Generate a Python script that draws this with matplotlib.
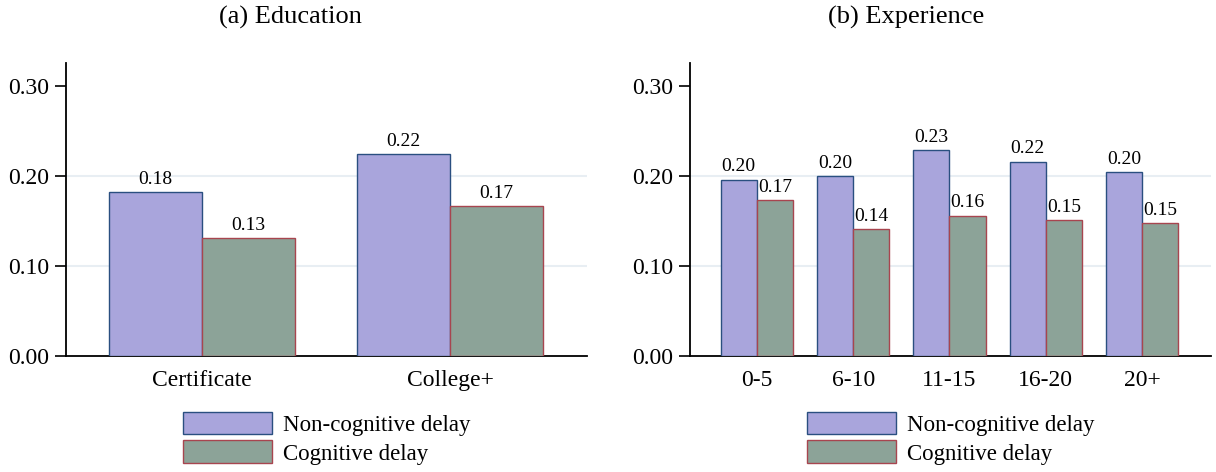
import matplotlib
matplotlib.use("Agg")
import matplotlib.pyplot as plt
import numpy as np
from matplotlib.patches import Patch

plt.rcParams['font.family'] = ['Liberation Serif', 'DejaVu Serif']

edu_categories = ["Certificate", "College+"]
edu_noncog = [0.182, 0.224]
edu_cog = [0.131, 0.167]

exp_categories = ["0-5", "6-10", "11-15", "16-20", "20+"]
exp_noncog = [0.196, 0.200, 0.229, 0.216, 0.204]
exp_cog = [0.173, 0.141, 0.156, 0.151, 0.148]

yticks = [0.00, 0.10, 0.20, 0.30]
series_labels = ["Non-cognitive delay", "Cognitive delay"]
titles = ["(a) Education", "(b) Experience"]

fill_nc, edge_nc = "#a9a5dc", "#2a4f80"
fill_c, edge_c = "#8ca398", "#a8454f"

W, H = 1216, 472
fig = plt.figure(figsize=(W / 100, H / 100), dpi=100)

def px_axes(x0, x1, y0, y1):
    return fig.add_axes([x0 / W, 1 - y1 / H, (x1 - x0) / W, (y1 - y0) / H])

ax1 = px_axes(66, 587, 63, 356)
ax2 = px_axes(690, 1211, 63, 356)

def draw(ax, cats, nc, c, xlim):
    x = np.arange(len(cats))
    w = 0.376
    b1 = ax.bar(x - w / 2, nc, w, color=fill_nc, edgecolor=edge_nc, linewidth=1.0, zorder=3)
    b2 = ax.bar(x + w / 2, c, w, color=fill_c, edgecolor=edge_c, linewidth=1.0, zorder=3)
    for bars, vals in ((b1, nc), (b2, c)):
        for r, v in zip(bars, vals):
            ax.annotate(f"{v:.2f}", (r.get_x() + r.get_width() / 2, v),
                        xytext=(0, 3), textcoords="offset points",
                        ha="center", va="bottom", fontsize=14)
    ax.set_xlim(*xlim)
    ax.set_ylim(0, 0.3256)
    ax.set_yticks(yticks)
    ax.set_yticklabels([f"{t:.2f}" for t in yticks])
    ax.set_xticks(x)
    ax.set_xticklabels(cats)
    for t in yticks[1:-1]:
        ax.axhline(t, color="#e8eef3", linewidth=1.5, zorder=1)
    for s in ("top", "right"):
        ax.spines[s].set_visible(False)
    ax.spines["left"].set_linewidth(1.3)
    ax.spines["bottom"].set_linewidth(1.3)
    ax.tick_params(axis="y", length=8, width=1.2, pad=4, labelsize=17)
    ax.tick_params(axis="x", length=0, pad=10, labelsize=17)
    handles = [Patch(facecolor=fill_nc, edgecolor=edge_nc, linewidth=1.0),
               Patch(facecolor=fill_c, edgecolor=edge_c, linewidth=1.0)]
    ax.legend(handles, series_labels, loc="upper center", bbox_to_anchor=(0.5, -0.19),
              frameon=False, fontsize=16.5, handlelength=3.9, handleheight=1.15,
              labelspacing=0.2, handletextpad=0.45, borderaxespad=0, borderpad=0)

draw(ax1, edu_categories, edu_noncog, edu_cog, (-0.548, 1.552))
draw(ax2, exp_categories, exp_noncog, exp_cog, (-0.694, 4.715))

fig.text(290 / W, 1 - 17 / H, titles[0], ha="center", va="center", fontsize=19)
fig.text(906 / W, 1 - 17 / H, titles[1], ha="center", va="center", fontsize=19)

fig.savefig("out.png", dpi=100)
